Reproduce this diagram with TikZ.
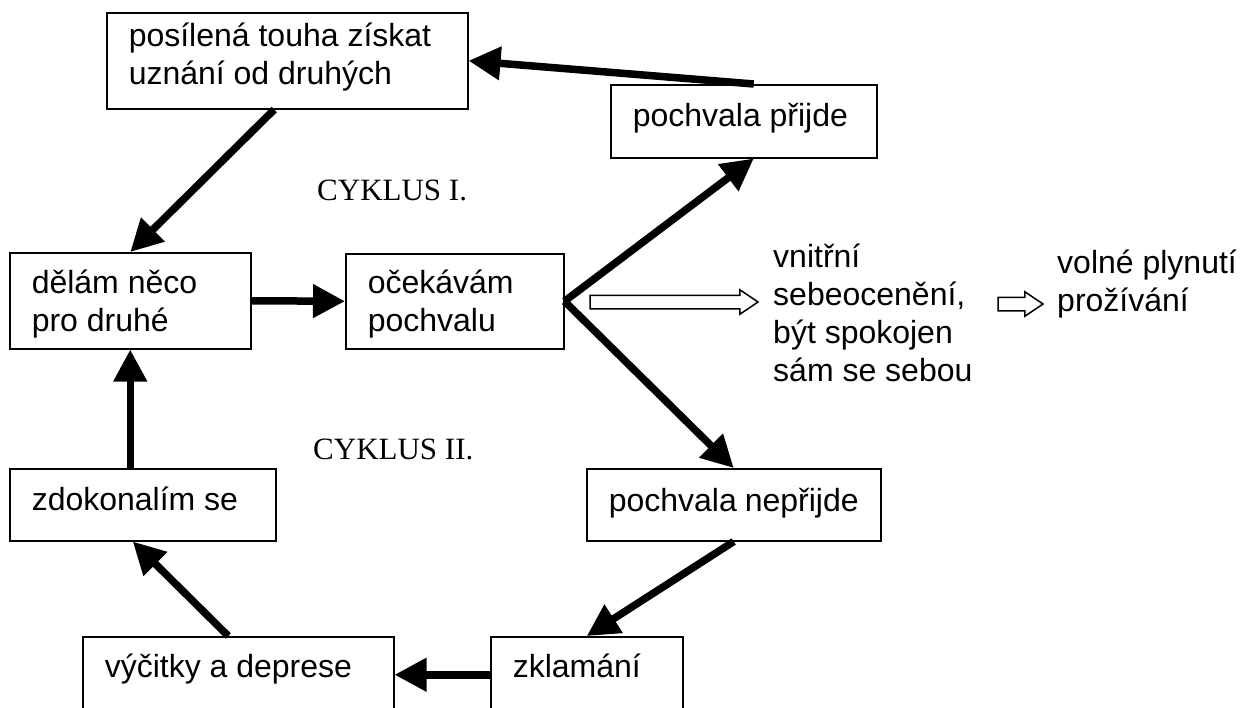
\documentclass[tikz,border=0pt]{standalone}
\usepackage{fontspec}
\setmainfont{Liberation Sans}
\newfontfamily\tmsfont{Liberation Serif}
\usetikzlibrary{arrows.meta,shapes.arrows}

\tikzset{
	box/.style={draw=black, line width=1.5pt, rectangle, anchor=north west, align=flush left, inner xsep=22pt, inner ysep=0pt},
	arr/.style={line width=7.5pt, -{Triangle[length=32pt,width=32pt]}},
	hollow/.style={draw=black, line width=1.5pt, single arrow, inner xsep=0pt, inner ysep=6pt, single arrow head extend=5.5pt, single arrow tip angle=68},
	txt/.style={anchor=base west, align=flush left, inner sep=0pt},
	cyk/.style={anchor=base west, inner sep=0pt, font=\tmsfont\fontsize{31}{36}\selectfont}
}

\begin{document}
\begin{tikzpicture}[x=1pt, y=-1pt, font=\fontsize{32}{38}\selectfont]
	
	\clip (0,0) rectangle (1246,707);
	
	\node[box, text width=317pt, text height=34pt, text depth=62pt] (touha) at (106,12)  {posílená touha získat\\uznání od druhých};
	\node[box, text width=222pt, text height=42pt, text depth=31pt] (prijde) at (610,84) {pochvala přijde};
	\node[box, text width=197pt, text height=41pt, text depth=55pt] (dela) at (9,252)    {dělám něco\\pro druhé};
	\node[box, text width=174pt, text height=40pt, text depth=55pt] (ocek) at (345,253)  {očekávám\\pochvalu};
	\node[box, text width=222pt, text height=42pt, text depth=30pt] (zdok) at (9,468)    {zdokonalím se};
	\node[box, text width=250pt, text height=43pt, text depth=29pt] (nepr) at (586,468)  {pochvala nepřijde};
	\node[box, text width=267pt, text height=41pt, text depth=35pt] (vyc) at (82,636)    {výčitky a deprese};
	\node[box, text width=148pt, text height=41pt, text depth=35pt] (zkl) at (490,636)   {zklamání};
	
	\node[txt, text width=230pt] (vnitrni) at (773,267) {vnitřní\\sebeocenění,\\být spokojen\\sám se sebou};
	\node[txt, text width=200pt] (volne) at (1057,273)  {volné plynutí\\prožívání};
	
	\node[cyk] (cyk1) at (317,200) {CYKLUS I.};
	\node[cyk] (cyk2) at (313,459) {CYKLUS II.};
	
	% cyklus I.
	\draw[arr] ([xshift=10pt]prijde.north) -- (touha.east);
	\draw[arr] ([xshift=-13pt]touha.south) -- (dela.north);
	\draw[arr] (dela.east) -- (ocek.west);
	\draw[arr] (ocek.east) -- ([xshift=10pt]prijde.south);
	
	% cyklus II.
	\draw[arr] (ocek.east) -- (nepr.north);
	\draw[arr] (nepr.south) -- (zkl.north);
	\draw[arr] (zkl.west) -- (vyc.east);
	\draw[arr] ([xshift=-10pt]vyc.north) -- ([xshift=-10pt]zdok.south);
	\draw[arr] (dela.south |- zdok.north) -- (dela.south);
	
	\node[hollow, minimum height=168pt] (h1) at (669,302) {};
	\node[hollow, minimum height=45pt] (h2) at (1015.5,304) {};
	
\end{tikzpicture}
\end{document}
